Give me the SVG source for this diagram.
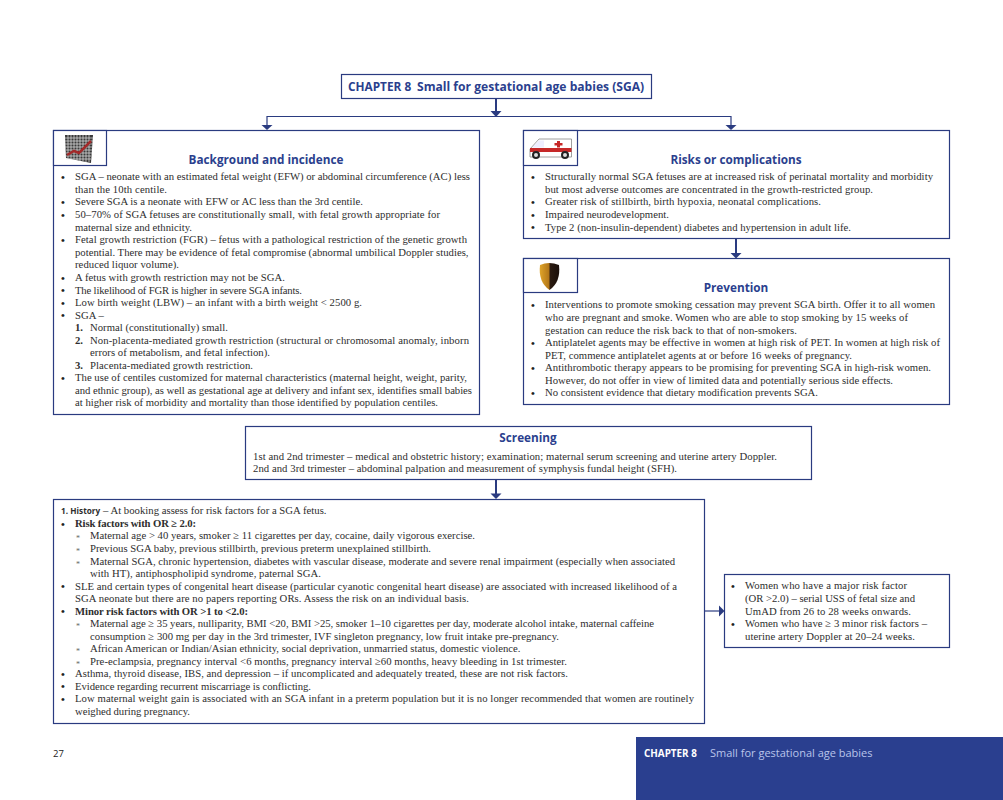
<svg xmlns="http://www.w3.org/2000/svg" width="1003" height="800" viewBox="0 0 1003 800">
<style>
text{font-family:"Liberation Serif","Times New Roman",serif;font-size:10.7px;fill:#2e2e2e}
.d{font-size:11px;font-weight:bold;fill:#222}
.h{font-family:"Open Sans","Noto Sans",sans-serif;font-size:11.75px;font-weight:700;fill:#2b3f8e;text-anchor:middle}
.box{fill:#fff;stroke:#2a3b80;stroke-width:1.2}
.c{fill:none;stroke:#2a3b80;stroke-width:1.2}
.t{fill:none;stroke:#2a3b80;stroke-width:2}
.b{font-weight:bold}
.s{font-size:8px;fill:#666}
.sm{font-family:"Open Sans","Noto Sans",sans-serif;font-weight:700;font-size:8.2px}
.n{font-family:"Open Sans","Noto Sans",sans-serif}
</style>
<defs><linearGradient id="sh" x1="0" x2="1" y1="0" y2="0"><stop offset="0" stop-color="#e0a52a"/><stop offset=".45" stop-color="#b5791a"/><stop offset=".55" stop-color="#2a1a10"/><stop offset="1" stop-color="#1a0f0a"/></linearGradient></defs>
<g id="connectors">
<path class="t" d="M496 98V112"/><path d="M490.500 111H501.500L496 117Z" fill="#2a3b80"/>
<path class="c" d="M267 125V116.500H731V125"/>
<path d="M261.500 125H272.500L267 130Z" fill="#2a3b80"/><path d="M725.500 125H736.500L731 130Z" fill="#2a3b80"/>
<path class="t" d="M736 239V254"/><path d="M730.500 253H741.500L736 258.500Z" fill="#2a3b80"/>
<path class="t" d="M496 480V495"/><path d="M490.500 493.500H501.500L496 499Z" fill="#2a3b80"/>
<path class="c" d="M705 611H720"/><path d="M719 605.500V616.500L724.500 611Z" fill="#2a3b80"/>
</g>
<g id="title"><rect class="box" x="341.500" y="74.500" width="310" height="24"/>
<text class="n" x="348" y="90.500" style="font-size:11.800px;font-weight:700;fill:#2b3f8e">CHAPTER 8</text>
<text class="n" x="417" y="90.500" style="font-size:12.100px;font-weight:700;fill:#2b3f8e">Small for gestational age babies (SGA)</text></g>
<g id="background"><rect class="box" x="53.500" y="130.500" width="426" height="284"/>
<rect class="box" x="53.500" y="130.500" width="53" height="35"/>
<g id="chart-icon"><path d="M65 135L93 135L91 163L66 158Z" fill="#3a3a3a"/><path d="M65 138L93 138M65 141L93 141M65 144L93 144M65 147L92 147M66 150L92 150M66 153L92 153M66 156L91 156M66 159L91 159M68 135V158M71 135V159M74 135V159M77 135V160M80 135V161M83 135V161M86 135V162M89 135V162" stroke="#e8e8e8" stroke-width=".7"/><path d="M67 155L74 151L79 153L91 141" fill="none" stroke="#a32a2a" stroke-width="2.500"/></g>
<text class="h" x="266" y="164">Background and incidence</text>
<text class="d" x="61" y="180.500">•</text><text x="75" y="180" textLength="395">SGA – neonate with an estimated fetal weight (EFW) or abdominal circumference (AC) less</text>
<text x="75" y="192.500" textLength="92">than the 10th centile.</text>
<text class="d" x="61" y="205.500">•</text><text x="75" y="205" textLength="288">Severe SGA is a neonate with EFW or AC less than the 3rd centile.</text>
<text class="d" x="61" y="218.500">•</text><text x="75" y="218" textLength="365">50–70% of SGA fetuses are constitutionally small, with fetal growth appropriate for</text>
<text x="75" y="230.500" textLength="117">maternal size and ethnicity.</text>
<text class="d" x="61" y="243.500">•</text><text x="75" y="243" textLength="392">Fetal growth restriction (FGR) – fetus with a pathological restriction of the genetic growth</text>
<text x="75" y="255.500" textLength="393.500">potential. There may be evidence of fetal compromise (abnormal umbilical Doppler studies,</text>
<text x="75" y="268" textLength="104">reduced liquor volume).</text>
<text class="d" x="61" y="281.500">•</text><text x="75" y="281" textLength="210">A fetus with growth restriction may not be SGA.</text>
<text class="d" x="61" y="294">•</text><text x="75" y="293.500" textLength="227">The likelihood of FGR is higher in severe SGA infants.</text>
<text class="d" x="61" y="306.500">•</text><text x="75" y="306" textLength="287">Low birth weight (LBW) – an infant with a birth weight &lt; 2500 g.</text>
<text class="d" x="61" y="319">•</text><text x="75" y="318.500">SGA –</text>
<text x="75" y="331" class="b">1.</text><text x="90" y="331" textLength="138">Normal (constitutionally) small.</text>
<text x="75" y="343.500" class="b">2.</text><text x="90" y="343.500" textLength="379">Non-placenta-mediated growth restriction (structural or chromosomal anomaly, inborn</text>
<text x="90" y="356" textLength="180">errors of metabolism, and fetal infection).</text>
<text x="75" y="368.500" class="b">3.</text><text x="90" y="368.500" textLength="163">Placenta-mediated growth restriction.</text>
<text class="d" x="61" y="381.500">•</text><text x="75" y="381" textLength="392">The use of centiles customized for maternal characteristics (maternal height, weight, parity,</text>
<text x="75" y="393.500" textLength="397">and ethnic group), as well as gestational age at delivery and infant sex, identifies small babies</text>
<text x="75" y="406" textLength="363">at higher risk of morbidity and mortality than those identified by population centiles.</text>
</g>
<g id="risks"><rect class="box" x="523.500" y="130.500" width="426" height="108"/>
<rect class="box" x="523.500" y="130.500" width="54" height="35"/>
<g id="ambulance-icon"><path d="M530 155V149L539 139H571.500V157H530Z" fill="#fff" stroke="#888" stroke-width=".8"/><path d="M532 147.500L539 140.500H544V147.500Z" fill="#eef"/><path d="M530 148H571.500V152H530Z" fill="#c62828"/><path d="M557 141H560V143H562.500V145.500H560V147.500H557V145.500H554.500V143H557Z" fill="#c62828"/><circle cx="536" cy="155" r="3" fill="#ddd" stroke="#222" stroke-width="2"/><circle cx="565" cy="155" r="3" fill="#ddd" stroke="#222" stroke-width="2"/></g>
<text class="h" x="736" y="164">Risks or complications</text>
<text class="d" x="531" y="180.500">•</text><text x="545" y="180" textLength="388">Structurally normal SGA fetuses are at increased risk of perinatal mortality and morbidity</text>
<text x="545" y="192.500" textLength="328">but most adverse outcomes are concentrated in the growth-restricted group.</text>
<text class="d" x="531" y="205.500">•</text><text x="545" y="205" textLength="276">Greater risk of stillbirth, birth hypoxia, neonatal complications.</text>
<text class="d" x="531" y="218.500">•</text><text x="545" y="218" textLength="124">Impaired neurodevelopment.</text>
<text class="d" x="531" y="231">•</text><text x="545" y="230.500" textLength="306">Type 2 (non-insulin-dependent) diabetes and hypertension in adult life.</text>
</g>
<g id="prevention"><rect class="box" x="523.500" y="258.500" width="426" height="146"/>
<rect class="box" x="523.500" y="258.500" width="54" height="34"/>
<g id="shield-icon"><path d="M540 265Q549 261 559 265Q561 282 549.500 290Q538 282 540 265Z" fill="url(#sh)"/></g>
<text class="h" x="736" y="292">Prevention</text>
<text class="d" x="531" y="308.500">•</text><text x="545" y="308" textLength="390">Interventions to promote smoking cessation may prevent SGA birth. Offer it to all women</text>
<text x="545" y="321" textLength="363">who are pregnant and smoke. Women who are able to stop smoking by 15 weeks of</text>
<text x="545" y="333.500" textLength="252">gestation can reduce the risk back to that of non-smokers.</text>
<text class="d" x="531" y="346.500">•</text><text x="545" y="346" textLength="395">Antiplatelet agents may be effective in women at high risk of PET. In women at high risk of</text>
<text x="545" y="358.500" textLength="307">PET, commence antiplatelet agents at or before 16 weeks of pregnancy.</text>
<text class="d" x="531" y="371.500">•</text><text x="545" y="371" textLength="386">Antithrombotic therapy appears to be promising for preventing SGA in high-risk women.</text>
<text x="545" y="383.500" textLength="348">However, do not offer in view of limited data and potentially serious side effects.</text>
<text class="d" x="531" y="396.500">•</text><text x="545" y="396" textLength="273">No consistent evidence that dietary modification prevents SGA.</text>
</g>
<g id="screening"><rect class="box" x="245.500" y="426.500" width="566" height="53"/>
<text class="h" x="528" y="442">Screening</text>
<text x="253" y="459.500" textLength="524">1st and 2nd trimester – medical and obstetric history; examination; maternal serum screening and uterine artery Doppler.</text>
<text x="253" y="471.500" textLength="424">2nd and 3rd trimester – abdominal palpation and measurement of symphysis fundal height (SFH).</text>
</g>
<g id="history"><rect class="box" x="53.500" y="499.500" width="651" height="224"/>
<text x="61" y="514" textLength="265.500"><tspan class="sm">1. History</tspan> – At booking assess for risk factors for a SGA fetus.</text>
<text class="d" x="61" y="527.500">•</text><text x="75" y="527" class="b" textLength="121">Risk factors with OR ≥ 2.0:</text>
<text x="76" y="541" class="s">*</text><text x="90" y="539" textLength="385">Maternal age &gt; 40 years, smoker ≥ 11 cigarettes per day, cocaine, daily vigorous exercise.</text>
<text x="76" y="554" class="s">*</text><text x="90" y="552" textLength="341">Previous SGA baby, previous stillbirth, previous preterm unexplained stillbirth.</text>
<text x="76" y="566.500" class="s">*</text><text x="90" y="564.500" textLength="585">Maternal SGA, chronic hypertension, diabetes with vascular disease, moderate and severe renal impairment (especially when associated</text>
<text x="90" y="577" textLength="231">with HT), antiphospholipid syndrome, paternal SGA.</text>
<text class="d" x="61" y="590">•</text><text x="75" y="589.500" textLength="602">SLE and certain types of congenital heart disease (particular cyanotic congenital heart disease) are associated with increased likelihood of a</text>
<text x="75" y="602" textLength="394">SGA neonate but there are no papers reporting ORs. Assess the risk on an individual basis.</text>
<text class="d" x="61" y="615">•</text><text x="75" y="614.500" class="b" textLength="173">Minor risk factors with OR &gt;1 to &lt;2.0:</text>
<text x="76" y="629" class="s">*</text><text x="90" y="627" textLength="564">Maternal age ≥ 35 years, nulliparity, BMI &lt;20, BMI &gt;25, smoker 1–10 cigarettes per day, moderate alcohol intake, maternal caffeine</text>
<text x="90" y="639.500" textLength="469">consumption ≥ 300 mg per day in the 3rd trimester, IVF singleton pregnancy, low fruit intake pre-pregnancy.</text>
<text x="76" y="654" class="s">*</text><text x="90" y="652" textLength="430.500">African American or Indian/Asian ethnicity, social deprivation, unmarried status, domestic violence.</text>
<text x="76" y="666.500" class="s">*</text><text x="90" y="664.500" textLength="477">Pre-eclampsia, pregnancy interval &lt;6 months, pregnancy interval ≥60 months, heavy bleeding in 1st trimester.</text>
<text class="d" x="61" y="677.500">•</text><text x="75" y="677" textLength="493">Asthma, thyroid disease, IBS, and depression – if uncomplicated and adequately treated, these are not risk factors.</text>
<text class="d" x="61" y="690">•</text><text x="75" y="689.500" textLength="236">Evidence regarding recurrent miscarriage is conflicting.</text>
<text class="d" x="61" y="702.500">•</text><text x="75" y="702" textLength="619">Low maternal weight gain is associated with an SGA infant in a preterm population but it is no longer recommended that women are routinely</text>
<text x="75" y="714.500" textLength="115">weighed during pregnancy.</text>
</g>
<g id="monitoring"><rect class="box" x="724.500" y="574.500" width="225" height="73"/>
<text class="d" x="731" y="589.500">•</text><text x="745" y="589" textLength="162">Women who have a major risk factor</text>
<text x="745" y="602" textLength="170">(OR &gt;2.0) – serial USS of fetal size and</text>
<text x="745" y="615" textLength="166">UmAD from 26 to 28 weeks onwards.</text>
<text class="d" x="731" y="627.500">•</text><text x="745" y="627" textLength="182">Women who have ≥ 3 minor risk factors –</text>
<text x="745" y="640" textLength="170">uterine artery Doppler at 20–24 weeks.</text>
</g>
<g id="footer"><rect x="636" y="737" width="367" height="63" fill="#2a3f8f"/>
<text class="n" x="53" y="757" style="font-size:9.500px;fill:#222">27</text>
<text class="n" x="644" y="757" style="font-size:9.900px;font-weight:700;fill:#fff">CHAPTER 8</text>
<text class="n" x="710" y="757" style="font-size:11px;fill:#b9c4ea">Small for gestational age babies</text></g>
</svg>
